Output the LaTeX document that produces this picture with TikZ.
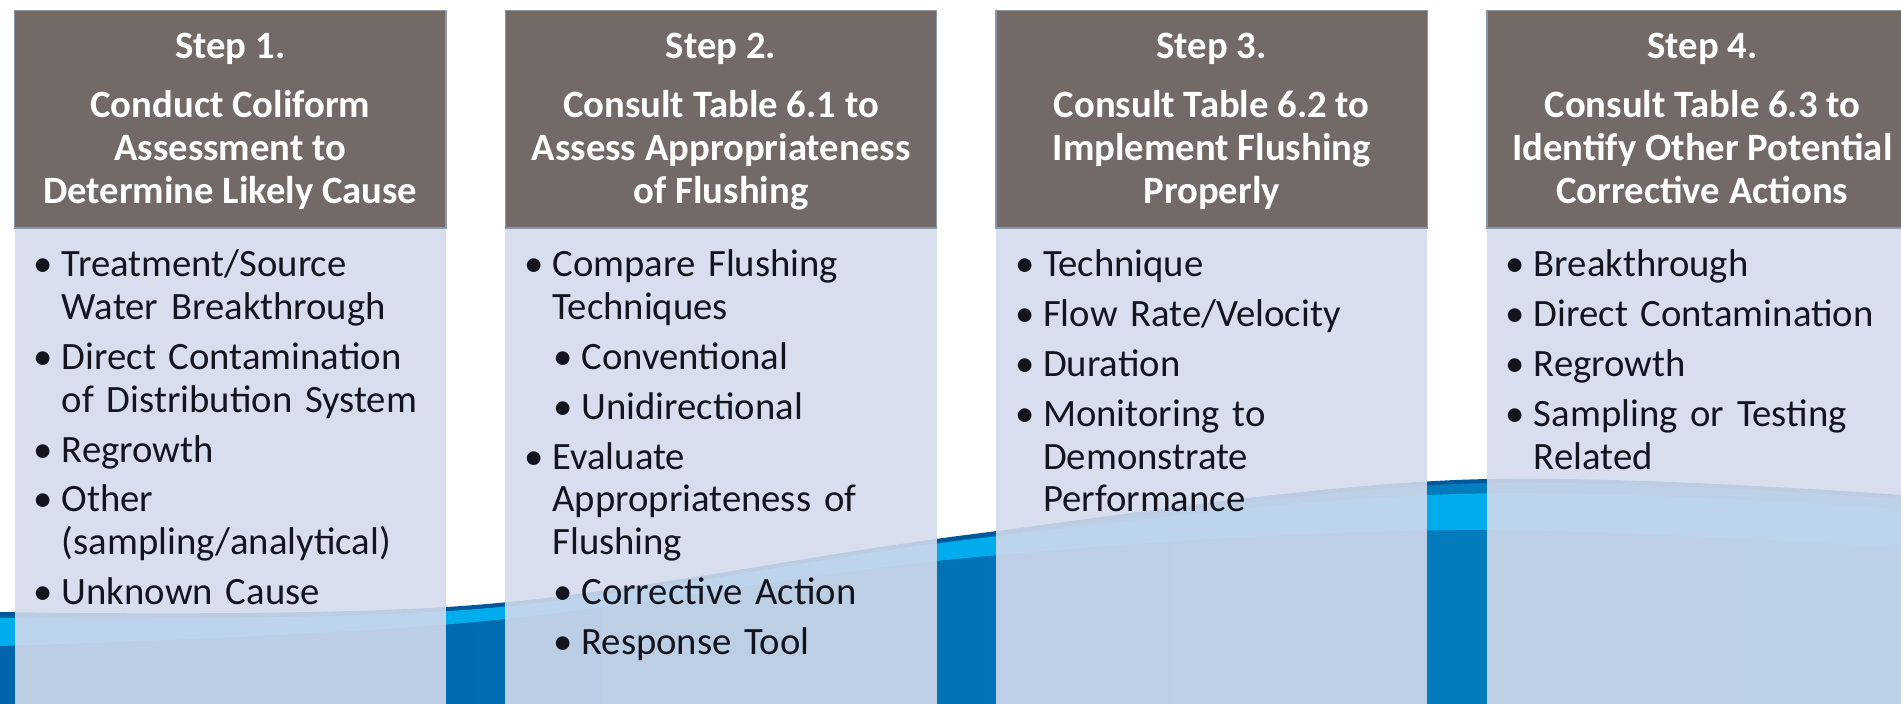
\documentclass[tikz,border=0pt]{standalone}
\usepackage{fontspec}
\setmainfont{Carlito}
\usepackage{enumitem}
\usetikzlibrary{positioning}

\definecolor{headgrey}{RGB}{115,106,103}
\definecolor{headrule}{RGB}{140,150,170}
\definecolor{panelblue}{RGB}{212,219,236}
\definecolor{wavedark}{RGB}{0,100,170}
\definecolor{wavemid}{RGB}{5,130,195}
\definecolor{wavecyan}{RGB}{0,172,236}
\definecolor{waveedge}{RGB}{0,88,155}
\definecolor{bodyink}{RGB}{20,20,30}

% bullet lists in the panels
\setlist[itemize]{nosep, itemsep=0.07cm, label=•}
\setlist[itemize,1]{labelindent=0.19cm, labelwidth=0.14cm, leftmargin=0.47cm, labelsep=*, align=left}
\setlist[itemize,2]{topsep=0.07cm, labelindent=0.01cm, labelwidth=0.14cm, leftmargin=0.29cm, labelsep=*, align=left}

\tikzset{
    stephead/.style={rectangle, fill=headgrey, draw=headrule, line width=0.4pt,
        minimum width=4.31cm, minimum height=2.17cm, inner sep=0, anchor=north west},
    panel/.style={rectangle, fill=panelblue, fill opacity=0.89,
        minimum width=4.31cm, minimum height=4.9cm, inner sep=0},
    headtext/.style={text=white, align=center, inner sep=0, anchor=base,
        font=\fontsize{11}{12.2}\selectfont\bfseries},
    pointlist/.style={text=bodyink, text width=4.6cm, inner sep=0, anchor=base west,
        font=\fontsize{11}{12.2}\selectfont},
}

\begin{document}
\begin{tikzpicture}[x=0.01cm, y=-0.01cm]
    \clip (0,0) rectangle (1901,704);
    \fill[white] (0,0) rectangle (1901,704);

    % water swoosh along the bottom
    \shade[left color=wavedark, right color=wavemid]
        plot[smooth, tension=0.6] coordinates {(0,614) (475,607) (966,537) (1456,482) (1901,497)}
        -- (1901,704) -- (0,704) -- cycle;
    \fill[wavecyan]
        plot[smooth, tension=0.6] coordinates {(0,618) (475,609) (966,540) (1456,494) (1901,509)}
        -- plot[smooth, tension=0.6] coordinates {(1901,548) (1456,530) (966,558) (475,622) (0,646)}
        -- cycle;
    \draw[waveedge, line width=0.04cm]
        plot[smooth, tension=0.6] coordinates {(0,614) (475,607) (966,537) (1456,482) (1901,497)};

    % step columns
    \foreach \i in {1,...,4} {
        \node[stephead] (head\i) at ({14+490.7*(\i-1)},10) {};
        \node[panel, below=0pt of head\i] (panel\i) {};
    }

    % titles sit on the baseline of their last line
    \node[headtext] (title1) at ([yshift=-1.93cm]head1.north)
        {Step 1.\\[4.6pt] Conduct Coliform\\ Assessment to\\ Determine Likely Cause};
    \node[headtext] (title2) at ([yshift=-1.93cm]head2.north)
        {Step 2.\\[4.6pt] Consult Table 6.1 to\\ Assess Appropriateness\\ of Flushing};
    \node[headtext] (title3) at ([yshift=-1.93cm]head3.north)
        {Step 3.\\[4.6pt] Consult Table 6.2 to\\ Implement Flushing\\ Properly};
    \node[headtext] (title4) at ([yshift=-1.93cm]head4.north)
        {Step 4.\\[4.6pt] Consult Table 6.3 to\\ Identify Other Potential\\ Corrective Actions};

    \node[pointlist] (list1) at ([yshift=-0.05cm]panel1.north west) {%
        \begin{itemize}
            \item Treatment/Source\\ Water Breakthrough
            \item Direct Contamination\\ of Distribution System
            \item Regrowth
            \item Other\\ (sampling/analytical)
            \item Unknown Cause
        \end{itemize}};
    \node[pointlist] (list2) at ([yshift=-0.05cm]panel2.north west) {%
        \begin{itemize}
            \item Compare Flushing\\ Techniques
            \begin{itemize}
                \item Conventional
                \item Unidirectional
            \end{itemize}
            \item Evaluate\\ Appropriateness of\\ Flushing
            \begin{itemize}
                \item Corrective Action
                \item Response Tool
            \end{itemize}
        \end{itemize}};
    \node[pointlist] (list3) at ([yshift=-0.05cm]panel3.north west) {%
        \begin{itemize}
            \item Technique
            \item Flow Rate/Velocity
            \item Duration
            \item Monitoring to\\ Demonstrate\\ Performance
        \end{itemize}};
    \node[pointlist] (list4) at ([yshift=-0.05cm]panel4.north west) {%
        \begin{itemize}
            \item Breakthrough
            \item Direct Contamination
            \item Regrowth
            \item Sampling or Testing\\ Related
        \end{itemize}};
\end{tikzpicture}
\end{document}
